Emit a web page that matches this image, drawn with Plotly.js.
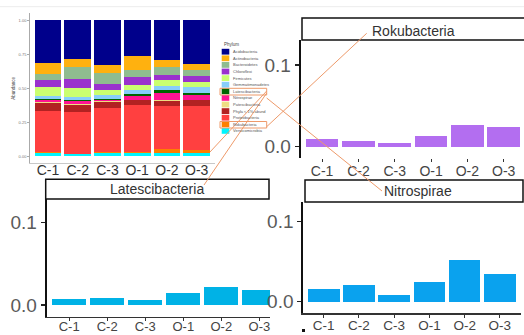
<!DOCTYPE html>
<html><head><meta charset="utf-8">
<script src="https://cdn.plot.ly/plotly-3.0.1.min.js"></script>
<style>html,body{margin:0;padding:0;background:#fff}#c{width:524px;height:335px}</style>
</head><body><div id="c"></div>
<script>
var samples = ["C-1","C-2","C-3","O-1","O-2","O-3"];
var phyla = ["Acidobacteria","Actinobacteria","Bacteroidetes","Chloroflexi","Firmicutes","Gemmatimonadetes","Latescibacteria","Nitrospirae","Patescibacteria","Phyla < 1% abund","Proteobacteria","Rokubacteria","Verrucomicrobia"];
var phylaColors = ["#00008B","#FFB10F","#8FBC8F","#9A32CD","#CAFF70","#87CEFA","#006400","#FF1493","#EEDC82","#B22222","#FF4040","#FF7F00","#00F5FF"];
var acidobacteria    = [0.313, 0.284, 0.326, 0.260, 0.289, 0.321];
var actinobacteria   = [0.079, 0.056, 0.061, 0.103, 0.054, 0.042];
var bacteroidetes    = [0.046, 0.091, 0.081, 0.056, 0.057, 0.044];
var chloroflexi      = [0.055, 0.064, 0.047, 0.054, 0.041, 0.046];
var firmicutes       = [0.061, 0.071, 0.031, 0.042, 0.039, 0.037];
var gemmatimonadetes = [0.027, 0.021, 0.032, 0.029, 0.035, 0.042];
var latescibacteria  = [0.0069, 0.0089, 0.0060, 0.0142, 0.0215, 0.0182];
var nitrospirae      = [0.0165, 0.0207, 0.0079, 0.0248, 0.0517, 0.0351];
var patescibacteria  = [0.003, 0.003, 0.008, 0.002, 0.002, 0.002];
var phylaLow         = [0.057, 0.054, 0.044, 0.035, 0.038, 0.040];
var proteobacteria   = [0.302, 0.3045, 0.326, 0.3445, 0.3205, 0.325];
var rokubacteria     = [0.0090, 0.0065, 0.0050, 0.0135, 0.0265, 0.0240];
var verrucomicrobia  = [0.025, 0.015, 0.025, 0.022, 0.025, 0.024];
var phylaValues = [acidobacteria, actinobacteria, bacteroidetes, chloroflexi, firmicutes, gemmatimonadetes, latescibacteria, nitrospirae, patescibacteria, phylaLow, proteobacteria, rokubacteria, verrucomicrobia];
var panelTicks = [0, 0.1];
var panelTickText = ["0.0", "0.1"];
var mainTicks = [0, 0.25, 0.5, 0.75, 1];
var mainTickText = ["0.00", "0.25", "0.50", "0.75", "1.00"];

var W = 524, H = 335;
function X(p){return p/W;}
function Y(p){return 1-p/H;}

var traces = [];
for (var i = phyla.length-1; i >= 0; i--) {
  traces.push({type:'bar', x:samples, y:phylaValues[i], name:phyla[i], marker:{color:phylaColors[i], line:{width:0}}, xaxis:'x', yaxis:'y', showlegend:false, hoverinfo:'skip'});
}
traces.push({type:'bar', x:samples, y:rokubacteria, marker:{color:'#B36EF0'}, xaxis:'x2', yaxis:'y2', showlegend:false});
traces.push({type:'bar', x:samples, y:latescibacteria, marker:{color:'#00B2E6'}, xaxis:'x3', yaxis:'y3', showlegend:false});
traces.push({type:'bar', x:samples, y:nitrospirae, marker:{color:'#0AA2EE'}, xaxis:'x4', yaxis:'y4', showlegend:false});

var sans = 'Liberation Sans, Arial, sans-serif';
function panelY(dom, rng){
  return {domain:dom, range:rng, showgrid:false, zeroline:false, showline:true, linecolor:'#111', linewidth:2,
    ticks:'outside', ticklen:4, tickwidth:1.5, tickcolor:'#222', tickvals:panelTicks, ticktext:panelTickText,
    tickfont:{family:sans, size:19, color:'#5a5a5a'}};
}
function panelX(dom, rng, line, standoff, size){
  return {domain:dom, range:rng, type:'category', showgrid:false, zeroline:false, showline:line, linecolor:'#333', linewidth:1.5,
    ticks:'outside', ticklen:3, tickwidth:1, tickcolor:'#333', ticklabelstandoff:standoff,
    tickfont:{family:sans, size:size, color:'#444'}};
}

var shapes = [], annotations = [];
shapes.push({type:'line', xref:'paper', yref:'paper', x0:X(0), x1:X(524), y0:Y(6.7), y1:Y(6.7), line:{color:'#ececec', width:1}});
var strips = [
  {t:'Rokubacteria', x0:302, x1:527, y0:18, y1:40, tx:413, ty:30.5},
  {t:'Latescibacteria', x0:45.7, x1:269, y0:179.3, y1:199, tx:157, ty:188.5},
  {t:'Nitrospirae', x0:305, x1:523, y0:180, y1:202, tx:418, ty:191}
];
strips.forEach(function(s){
  shapes.push({type:'rect', xref:'paper', yref:'paper', x0:X(s.x0), x1:X(s.x1), y0:Y(s.y1), y1:Y(s.y0), line:{color:'#111', width:1.5}, fillcolor:'#fff'});
  annotations.push({xref:'paper', yref:'paper', x:X(s.tx), y:Y(s.ty), text:s.t, showarrow:false, xanchor:'center', yanchor:'middle', font:{family:sans, size:14, color:'#333'}});
});
annotations.push({xref:'paper', yref:'paper', x:X(221.5), y:Y(44.5), text:'Phylum', showarrow:false, xanchor:'left', yanchor:'middle', font:{family:sans, size:4.5, color:'#444'}});
for (var k = 0; k < phyla.length; k++) {
  var cy = 51.7 + k*6.6;
  shapes.push({type:'rect', xref:'paper', yref:'paper', x0:X(221.7), x1:X(229.3), y0:Y(cy+2.9), y1:Y(cy-2.9), line:{width:0}, fillcolor:phylaColors[k]});
  annotations.push({xref:'paper', yref:'paper', x:X(231), y:Y(cy), text:phyla[k], showarrow:false, xanchor:'left', yanchor:'middle', font:{family:sans, size:4, color:'#555'}});
}
shapes.push({type:'rect', xref:'paper', yref:'paper', x0:X(220), x1:X(266.7), y0:Y(95), y1:Y(88.3), line:{color:'#EE9A6A', width:1}});
shapes.push({type:'rect', xref:'paper', yref:'paper', x0:X(220), x1:X(266.7), y0:Y(128), y1:Y(121.5), line:{color:'#EE9A6A', width:1}});
var conns = [[210,152,266.7,91],[204,185,266.7,93],[266.7,98,382,191],[266.7,126.7,366.7,33.3]];
conns.forEach(function(c){
  shapes.push({type:'line', xref:'paper', yref:'paper', x0:X(c[0]), y0:Y(c[1]), x1:X(c[2]), y1:Y(c[3]), line:{color:'#EE9A6A', width:1}});
});
shapes.push({type:'rect', xref:'paper', yref:'paper', x0:X(302), x1:X(305), y0:Y(332), y1:Y(329), line:{width:0}, fillcolor:'#111'});

var layout = {
  width:W, height:H, margin:{l:0,r:0,t:0,b:0}, paper_bgcolor:'#fff', plot_bgcolor:'rgba(0,0,0,0)',
  barmode:'stack', bargap:0.1, showlegend:false,
  xaxis:{domain:[X(30.2), X(214.5)], range:[-0.6,5.6], type:'category', showgrid:false, zeroline:false, showline:true, linecolor:'#c8c8c8', linewidth:1,
    ticks:'', ticklabelstandoff:-6, tickfont:{family:sans, size:14, color:'#333'}},
  yaxis:{domain:[Y(163.3), Y(13.3)], range:[-0.05,1.05], showgrid:false, zeroline:false, showline:true, linecolor:'#aaa', linewidth:1,
    ticks:'outside', ticklen:2, tickcolor:'#aaa', tickvals:mainTicks, ticktext:mainTickText, tickfont:{family:sans, size:4, color:'#777'},
    title:{text:'Abundance', font:{family:sans, size:4.5, color:'#444'}, standoff:3}},
  xaxis2:panelX([X(300.7), 1], [-0.59, 5.56], false, -3, 14),
  yaxis2:panelY([Y(158), Y(40)], [-0.0138, 0.1306]),
  xaxis3:panelX([X(46.7), X(270)], [-0.59, 5.28], true, -6, 13),
  yaxis3:panelY([Y(316.7), Y(199)], [-0.0142, 0.1288]),
  xaxis4:panelX([X(303.3), X(521)], [-0.58, 5.6], true, -4, 13.5),
  yaxis4:panelY([Y(313), Y(202)], [-0.0141, 0.1246]),
  shapes:shapes, annotations:annotations
};
layout.xaxis2.anchor='y2'; layout.yaxis2.anchor='x2';
layout.xaxis3.anchor='y3'; layout.yaxis3.anchor='x3';
layout.xaxis4.anchor='y4'; layout.yaxis4.anchor='x4';
Plotly.newPlot('c', traces, layout, {displayModeBar:false, staticPlot:true});
</script></body></html>
